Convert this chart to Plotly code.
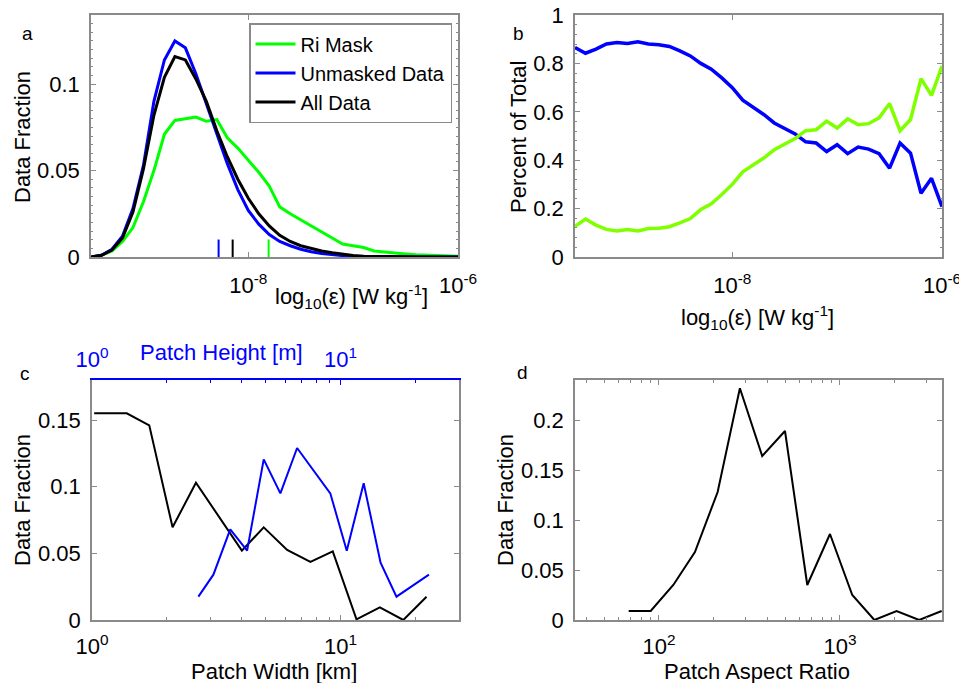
import plotly.graph_objects as go

W, H = 959, 683
FONT = "Liberation Sans, Arial, sans-serif"
GRAY = "#8a8a8a"

# ---------------- Panel a: distributions of log10(epsilon) ----------------
a_x = [-9.5, -9.4, -9.3, -9.2, -9.1, -9.0, -8.9, -8.8, -8.7, -8.6, -8.5, -8.4, -8.3, -8.2, -8.1,
       -8.0, -7.9, -7.8, -7.7, -7.6, -7.5, -7.4, -7.3, -7.2, -7.1, -7.0, -6.9, -6.8, -6.7, -6.6,
       -6.5, -6.4, -6.3, -6.2, -6.1, -6.0]
a_ri = [0.0, 0.001, 0.0035, 0.009, 0.017, 0.032, 0.050, 0.071, 0.079, 0.080, 0.081, 0.0785, 0.0795,
        0.069, 0.063, 0.056, 0.049, 0.041, 0.029, 0.025, 0.0215, 0.0175, 0.014, 0.011, 0.0075, 0.0064,
        0.0055, 0.0035, 0.0028, 0.0022, 0.0018, 0.0013, 0.001, 0.0008, 0.0006, 0.0004]
a_unmasked = [0.0, 0.001, 0.0045, 0.012, 0.028, 0.053, 0.090, 0.114, 0.125, 0.121, 0.106, 0.089, 0.071,
              0.054, 0.039, 0.027, 0.019, 0.013, 0.009, 0.0065, 0.0045, 0.003, 0.002, 0.0013, 0.0008,
              0.0004, 0.0003, 0.0002, 0.0001, 0.0001, 0.0001, 0.0, 0.0, 0.0, 0.0, 0.0]
a_all = [0.0, 0.001, 0.004, 0.011, 0.026, 0.051, 0.082, 0.104, 0.116, 0.114, 0.103, 0.090, 0.073,
         0.058, 0.045, 0.034, 0.025, 0.018, 0.0125, 0.009, 0.0065, 0.0048, 0.0035, 0.0024, 0.0015,
         0.0009, 0.0005, 0.0003, 0.0002, 0.0001, 0.0001, 0.0, 0.0, 0.0, 0.0, 0.0]
# median markers (log10 epsilon) and their height
a_median_x = {"Unmasked Data": -8.283, "All Data": -8.149, "Ri Mask": -7.806}
a_median_h = 0.0101

# ---------------- Panel b: fraction of total ----------------
b_x = [-9.5, -9.4, -9.3, -9.2, -9.1, -9.0, -8.9, -8.8, -8.7, -8.6, -8.5, -8.4, -8.3, -8.2, -8.1,
       -8.0, -7.9, -7.8, -7.7, -7.6, -7.5, -7.4, -7.3, -7.2, -7.1, -7.0, -6.9, -6.8, -6.7, -6.6,
       -6.5, -6.4, -6.3, -6.2, -6.1, -6.0]
b_unmasked = [0.866, 0.842, 0.859, 0.880, 0.886, 0.882, 0.889, 0.880, 0.877, 0.870, 0.852, 0.831, 0.800,
              0.776, 0.740, 0.700, 0.648, 0.618, 0.589, 0.554, 0.532, 0.508, 0.476, 0.471, 0.436, 0.464,
              0.427, 0.454, 0.446, 0.427, 0.367, 0.471, 0.429, 0.263, 0.325, 0.208]
b_ri = [0.127, 0.157, 0.132, 0.114, 0.108, 0.114, 0.108, 0.118, 0.119, 0.125, 0.141, 0.159, 0.196,
        0.220, 0.258, 0.300, 0.352, 0.380, 0.409, 0.443, 0.468, 0.490, 0.522, 0.526, 0.561, 0.533,
        0.571, 0.547, 0.551, 0.575, 0.634, 0.522, 0.568, 0.737, 0.668, 0.789]

# ---------------- Panel c: patch width / height ----------------
c_width_km = [1.02, 1.38, 1.70, 2.11, 2.62, 3.23, 4.01, 4.91, 6.10, 7.57, 9.31, 11.6, 14.4, 17.9, 22.2]
c_width_frac = [0.155, 0.155, 0.146, 0.0695, 0.103, 0.078, 0.052, 0.0695, 0.0525, 0.0435, 0.0515,
                0.0005, 0.0095, 0.0, 0.0175]
c_height_m = [2.68, 3.08, 3.60, 4.21, 4.91, 5.73, 6.69, 7.8, 9.1, 10.6, 12.4, 14.5, 16.8, 19.6, 22.7]
c_height_frac = [0.0175, 0.034, 0.068, 0.052, 0.1205, 0.095, 0.129, 0.112, 0.095, 0.052, 0.1025,
                 0.043, 0.0175, 0.026, 0.034]

# ---------------- Panel d: aspect ratio ----------------
d_ratio = [68, 90, 120, 158, 211, 280, 372, 497, 660, 881, 1170, 1550, 2056, 2740, 3650]
d_frac = [0.009, 0.009, 0.035, 0.068, 0.128, 0.2317, 0.164, 0.189, 0.035, 0.086, 0.025, 0.0, 0.009,
          0.0, 0.009]

GREEN_A = "#00ff00"
GREEN_B = "#80ff00"
BLUE = "#0000ff"
BLACK = "#000000"

fig = go.Figure()

# Panel a
fig.add_trace(go.Scatter(x=a_x, y=a_ri, mode="lines", name="Ri Mask",
                         line=dict(color=GREEN_A, width=3), xaxis="x", yaxis="y"))
fig.add_trace(go.Scatter(x=a_x, y=a_unmasked, mode="lines", name="Unmasked Data",
                         line=dict(color=BLUE, width=3), xaxis="x", yaxis="y"))
fig.add_trace(go.Scatter(x=a_x, y=a_all, mode="lines", name="All Data",
                         line=dict(color=BLACK, width=3), xaxis="x", yaxis="y"))
for nm, col in [("Unmasked Data", BLUE), ("All Data", BLACK), ("Ri Mask", GREEN_A)]:
    xv = a_median_x[nm]
    fig.add_trace(go.Scatter(x=[xv, xv], y=[0, a_median_h], mode="lines", showlegend=False,
                             line=dict(color=col, width=2), xaxis="x", yaxis="y"))

# Panel b
fig.add_trace(go.Scatter(x=b_x, y=b_unmasked, mode="lines", showlegend=False,
                         line=dict(color=BLUE, width=3.5), xaxis="x2", yaxis="y2"))
fig.add_trace(go.Scatter(x=b_x, y=b_ri, mode="lines", showlegend=False,
                         line=dict(color=GREEN_B, width=3.5), xaxis="x2", yaxis="y2"))

# Panel c
fig.add_trace(go.Scatter(x=c_width_km, y=c_width_frac, mode="lines", showlegend=False,
                         line=dict(color=BLACK, width=2), xaxis="x3", yaxis="y3"))
fig.add_trace(go.Scatter(x=c_height_m, y=c_height_frac, mode="lines", showlegend=False,
                         line=dict(color=BLUE, width=2), xaxis="x5", yaxis="y3"))

# Panel d
fig.add_trace(go.Scatter(x=d_ratio, y=d_frac, mode="lines", showlegend=False,
                         line=dict(color=BLACK, width=2), xaxis="x4", yaxis="y4"))


def px_x(p):
    return p / W


def px_y(p):
    return 1 - p / H


TS = 22
tickfont = dict(family=FONT, size=TS, color="#000")
common = dict(showgrid=False, zeroline=False, showline=True, linecolor=GRAY, linewidth=1.5,
              ticks="inside", ticklen=5, tickcolor=GRAY, tickwidth=1, tickfont=tickfont,
              automargin=False, ticklabeloverflow="allow")

dom_ax = [px_x(91), px_x(458)]
dom_bx = [px_x(575), px_x(942)]
dom_top = [px_y(257), px_y(15)]
dom_cx = [px_x(92), px_x(459)]
dom_dx = [px_x(575), px_x(942)]
dom_bot = [px_y(620), px_y(380)]

log_minor_c = [2, 3, 4, 5, 6, 7, 8, 9, 20, 30]
log_minor_d = [40, 50, 60, 70, 80, 90, 200, 300, 400, 500, 600, 700, 800, 900, 2000, 3000]

fig.update_layout(
    template="none",
    width=W, height=H, margin=dict(l=0, r=0, t=0, b=0, pad=0, autoexpand=False),
    paper_bgcolor="white", plot_bgcolor="white",
    font=dict(family=FONT, size=TS, color="#000"),
    showlegend=True,
    legend=dict(x=px_x(452), y=px_y(23), xanchor="right", yanchor="top",
                bgcolor="white", bordercolor=GRAY, borderwidth=1.5,
                font=dict(family=FONT, size=20, color="#000"), tracegroupgap=0,
                itemwidth=40),
    xaxis=dict(**common, domain=dom_ax, anchor="y", range=[-9.5, -6], mirror="ticks",
               tickvals=[-8, -6], ticktext=["10<sup>-8</sup>", "10<sup>-6</sup>"],
               ticklabelstandoff=8),
    yaxis=dict(**common, domain=dom_top, anchor="x", range=[0, 0.14], mirror="ticks",
               tickvals=[0, 0.05, 0.1], ticktext=["0", "0.05", "0.1"], ticklabelstandoff=5,
               minor=dict(dtick=0.005, ticks="inside", ticklen=2, tickcolor=GRAY, showgrid=False)),
    xaxis2=dict(**common, domain=dom_bx, anchor="y2", range=[-9.5, -6], mirror="ticks",
                tickvals=[-8, -6], ticktext=["10<sup>-8</sup>", "10<sup>-6</sup>"],
                ticklabelstandoff=8),
    yaxis2=dict(**common, domain=dom_top, anchor="x2", range=[0, 1], mirror="ticks",
                tickvals=[0, 0.2, 0.4, 0.6, 0.8, 1.0], ticktext=["0", "0.2", "0.4", "0.6", "0.8", "1"],
                ticklabelstandoff=5,
                minor=dict(dtick=0.04, ticks="inside", ticklen=2, tickcolor=GRAY, showgrid=False)),
    xaxis3=dict(**common, domain=dom_cx, anchor="y3", type="log", range=[0, 1.477], mirror=False,
                tickvals=[1, 10], ticktext=["10<sup>0</sup>", "10<sup>1</sup>"], ticklabelstandoff=6,
                minor=dict(tickvals=log_minor_c, ticks="inside", ticklen=3, tickcolor=GRAY, showgrid=False)),
    xaxis5=dict(showgrid=False, zeroline=False, showline=True, linecolor=BLUE, linewidth=1.5,
                ticks="inside", ticklen=5, tickcolor=BLUE, tickwidth=1, automargin=False,
                ticklabeloverflow="allow",
                tickfont=dict(family=FONT, size=TS, color=BLUE),
                overlaying="x3", side="top", anchor="y3", type="log", range=[0, 1.477],
                tickvals=[1, 10], ticktext=["10<sup>0</sup>", "10<sup>1</sup>"], ticklabelstandoff=2,
                minor=dict(tickvals=log_minor_c, ticks="inside", ticklen=3, tickcolor=BLUE, showgrid=False)),
    yaxis3=dict(**common, domain=dom_bot, anchor="x3", range=[0, 0.18], mirror="ticks",
                tickvals=[0, 0.05, 0.1, 0.15], ticktext=["0", "0.05", "0.1", "0.15"], ticklabelstandoff=5),
    xaxis4=dict(**common, domain=dom_dx, anchor="y4", type="log", range=[1.536, 3.564], mirror="ticks",
                tickvals=[100, 1000], ticktext=["10<sup>2</sup>", "10<sup>3</sup>"], ticklabelstandoff=6,
                minor=dict(tickvals=log_minor_d, ticks="inside", ticklen=3, tickcolor=GRAY, showgrid=False)),
    yaxis4=dict(**common, domain=dom_bot, anchor="x4", range=[0, 0.24], mirror="ticks",
                tickvals=[0, 0.05, 0.1, 0.15, 0.2], ticktext=["0", "0.05", "0.1", "0.15", "0.2"],
                ticklabelstandoff=5),
)

ann = []


def add_text(text, x, y, size=TS, color="#000", angle=0):
    ann.append(dict(text=text, x=px_x(x), y=px_y(y), xref="paper", yref="paper",
                    xanchor="center", yanchor="middle", showarrow=False, textangle=angle,
                    font=dict(family=FONT, size=size, color=color)))


eps_title = "log<sub>10</sub>(ε) [W kg<sup>-1</sup>]"
add_text("a", 27, 33, size=19)
add_text("b", 518, 33, size=19)
add_text("c", 25, 373, size=19)
add_text("d", 522, 372, size=19)
add_text("Data Fraction", 22, 137, angle=-90)
add_text("Percent of Total", 518, 137, angle=-90)
add_text("Data Fraction", 22, 500, angle=-90)
add_text("Data Fraction", 505, 500, angle=-90)
add_text(eps_title, 351, 297)
add_text(eps_title, 757, 318)
add_text("Patch Width [km]", 274, 671)
add_text("Patch Height [m]", 221, 352, color=BLUE)
add_text("Patch Aspect Ratio", 757, 671)
fig.update_layout(annotations=ann)

fig.write_html("out.html")
